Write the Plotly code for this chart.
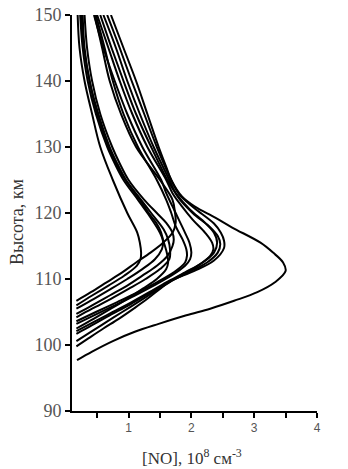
import plotly.graph_objects as go

# Altitude (km) and [NO] (10^8 cm^-3) for each profile
alt_1 = [97.7, 99, 100.6, 102, 103.2, 104.5, 105.5, 106.7, 108, 109.5, 111.2, 112.5, 114, 115.5, 117.8, 119.3, 121, 122.5, 125, 127, 130, 135, 140, 145, 150]
no_1 = [0.18, 0.42, 0.75, 1.1, 1.48, 1.92, 2.3, 2.68, 3.05, 3.33, 3.5, 3.46, 3.3, 3.1, 2.65, 2.38, 2.05, 1.85, 1.68, 1.6, 1.48, 1.3, 1.12, 0.92, 0.72]

alt_2 = [99.8, 101, 102.5, 104, 105.5, 107, 108.5, 109.7, 111.2, 112.8, 114.7, 115.8, 117, 118.4, 120.8, 122.9, 125, 130, 135, 140, 145, 150]
no_2 = [0.17, 0.36, 0.6, 0.85, 1.08, 1.3, 1.5, 1.67, 2.04, 2.36, 2.52, 2.52, 2.47, 2.36, 2.04, 1.8, 1.68, 1.45, 1.25, 1.05, 0.86, 0.66]

alt_3 = [100.6, 102, 103.5, 105, 106.5, 108, 109.5, 111, 112.5, 114, 115.3, 116.5, 118, 120, 122.5, 125, 130, 135, 140, 145, 150]
no_3 = [0.17, 0.4, 0.65, 0.9, 1.15, 1.4, 1.65, 1.95, 2.25, 2.42, 2.46, 2.42, 2.28, 2.02, 1.78, 1.65, 1.4, 1.18, 0.98, 0.8, 0.6]

alt_4 = [102.1, 103.5, 105, 106.5, 108, 109.5, 111, 112.5, 114, 115.5, 117, 118.5, 120.5, 123, 125, 130, 135, 140, 145, 150]
no_4 = [0.17, 0.45, 0.75, 1.05, 1.33, 1.6, 1.9, 2.18, 2.36, 2.41, 2.36, 2.22, 1.98, 1.75, 1.62, 1.36, 1.12, 0.92, 0.73, 0.55]

alt_5 = [101.7, 103, 104.5, 106, 107.5, 109, 110.5, 112, 113.5, 114.5, 115.5, 117, 119, 121, 123, 125, 130, 135, 140, 145, 150]
no_5 = [0.17, 0.42, 0.7, 1.0, 1.27, 1.55, 1.82, 2.1, 2.3, 2.35, 2.33, 2.22, 2.02, 1.85, 1.7, 1.6, 1.3, 1.06, 0.86, 0.68, 0.5]

alt_6 = [103.2, 104.5, 106, 107.5, 109, 110.5, 112, 113, 114, 115.5, 117, 119, 121, 123, 125, 130, 135, 140, 145, 150]
no_6 = [0.17, 0.45, 0.78, 1.1, 1.4, 1.68, 1.9, 1.98, 2.0, 1.97, 1.9, 1.8, 1.7, 1.6, 1.52, 1.22, 0.98, 0.78, 0.6, 0.45]

alt_7 = [103.6, 105, 106.5, 108, 109.5, 111, 112.5, 113.5, 114.5, 116, 118, 120, 122, 125, 130, 135, 140, 145, 150]
no_7 = [0.17, 0.48, 0.82, 1.15, 1.45, 1.72, 1.9, 1.93, 1.92, 1.86, 1.75, 1.68, 1.6, 1.45, 1.15, 0.92, 0.75, 0.62, 0.48]

alt_8 = [106.7, 108, 109.5, 111, 112.5, 114, 115.5, 117, 118.5, 120, 122, 125, 130, 135, 140, 145, 150]
no_8 = [0.17, 0.4, 0.65, 0.9, 1.12, 1.35, 1.55, 1.7, 1.75, 1.74, 1.7, 1.5, 1.12, 0.88, 0.7, 0.58, 0.46]

alt_9 = [104.2, 105.5, 107, 108.5, 110, 111.5, 113, 114.5, 116, 117.5, 120, 122, 125, 127.5, 130, 135, 140, 145, 150]
no_9 = [0.17, 0.42, 0.72, 1.0, 1.27, 1.5, 1.65, 1.66, 1.63, 1.56, 1.36, 1.2, 0.96, 0.82, 0.7, 0.52, 0.38, 0.3, 0.27]

alt_10 = [102.5, 104, 105.5, 107, 108.5, 110, 111.5, 112.5, 113.5, 115, 117, 120, 122, 125, 127.5, 130, 135, 140, 145, 150]
no_10 = [0.17, 0.45, 0.72, 0.98, 1.22, 1.45, 1.6, 1.63, 1.62, 1.58, 1.5, 1.3, 1.15, 0.92, 0.78, 0.66, 0.48, 0.35, 0.27, 0.23]

alt_11 = [106.0, 107.5, 109, 110.5, 112, 113, 114, 115.5, 117, 120, 125, 130, 135, 140, 145, 150]
no_11 = [0.17, 0.42, 0.68, 0.93, 1.13, 1.19, 1.2, 1.18, 1.14, 0.98, 0.75, 0.55, 0.42, 0.3, 0.22, 0.19]

alt_12 = [105.5, 107, 108.5, 110, 111.5, 113, 114.5, 115.5, 117, 118.5, 120, 122, 125, 127.5, 130, 135, 140, 145, 150]
no_12 = [0.17, 0.45, 0.72, 0.98, 1.22, 1.42, 1.53, 1.55, 1.52, 1.44, 1.32, 1.18, 0.95, 0.8, 0.68, 0.5, 0.38, 0.29, 0.25]

alt_13 = [104.7, 106, 107.5, 109, 110.5, 112, 113.5, 115, 116, 117, 118.5, 120, 122, 125, 127.5, 130, 135, 140, 145, 150]
no_13 = [0.17, 0.42, 0.7, 0.98, 1.22, 1.45, 1.62, 1.7, 1.72, 1.7, 1.6, 1.45, 1.25, 1.0, 0.86, 0.74, 0.55, 0.42, 0.34, 0.3]

profiles = [
    (alt_1, no_1), (alt_2, no_2), (alt_3, no_3), (alt_4, no_4), (alt_5, no_5),
    (alt_6, no_6), (alt_7, no_7), (alt_8, no_8), (alt_9, no_9), (alt_10, no_10),
    (alt_11, no_11), (alt_12, no_12), (alt_13, no_13),
]

x_tick_vals = [0.5, 1, 1.5, 2, 2.5, 3, 3.5, 4]
x_tick_text = ["", "1", "", "2", "", "3", "", "4"]
y_tick_vals = [90, 100, 110, 120, 130, 140, 150]

fig = go.Figure()
for alt, no in profiles:
    fig.add_trace(go.Scatter(
        x=no, y=alt, mode="lines",
        line=dict(color="black", width=2, shape="spline", smoothing=1.0),
        showlegend=False, hoverinfo="skip",
    ))

fig.update_layout(
    width=348, height=469,
    margin=dict(l=72, r=31, t=15, b=58),
    paper_bgcolor="white", plot_bgcolor="white",
    showlegend=False,
    annotations=[
        dict(text="[NO], 10<sup>8</sup> см<sup>-3</sup>", xref="paper", yref="paper",
             x=0.49, y=-0.116, xanchor="center", yanchor="middle", showarrow=False,
             font=dict(family="Liberation Serif, Times New Roman", size=17, color="#333333")),
        dict(text="Высота, км", xref="paper", yref="paper",
             x=-0.2245, y=0.477, xanchor="center", yanchor="middle", showarrow=False,
             textangle=-90,
             font=dict(family="Liberation Serif, Times New Roman", size=18, color="#333333")),
    ],
)
fig.update_xaxes(
    range=[0.1, 4.0], tickmode="array", tickvals=x_tick_vals, ticktext=x_tick_text,
    ticks="outside", ticklen=5, tickwidth=1.5, tickcolor="black",
    showline=True, linecolor="black", linewidth=2, showgrid=False, zeroline=False,
    automargin=False, ticklabeloverflow="allow",
    tickfont=dict(family="Liberation Sans, Arial", size=12, color="#555555"),
)
fig.update_yaxes(
    range=[90, 150], tickmode="array", tickvals=y_tick_vals,
    ticks="outside", ticklen=5, tickwidth=1.5, tickcolor="black",
    showline=True, linecolor="black", linewidth=2, showgrid=False, zeroline=False,
    automargin=False, ticklabeloverflow="allow",
    tickfont=dict(family="Liberation Serif, Times New Roman", size=18, color="#555555"),
)

# remove the default 8 px page margin so the figure fills the window exactly
fig.write_html("out.html", config={"displayModeBar": False},
               post_script="document.body.style.margin='0px';")
